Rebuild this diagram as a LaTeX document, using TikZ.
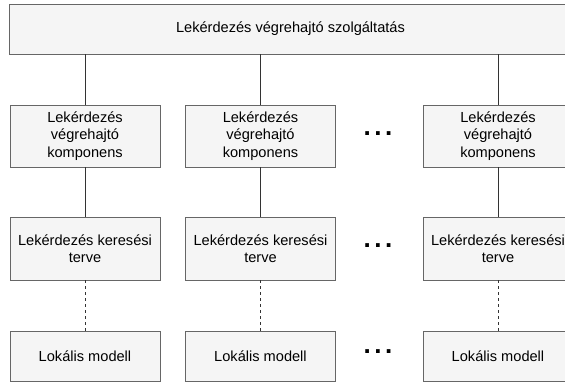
\documentclass[tikz,border=0pt]{standalone}
\usepackage{fontspec}
\setmainfont{Liberation Sans}
\definecolor{boxfill}{HTML}{F5F5F5}
\definecolor{boxline}{HTML}{666666}
\definecolor{linkcol}{HTML}{333333}
\begin{document}
\begin{tikzpicture}[x=1pt,y=-1pt,
  box/.style={draw=boxline, fill=boxfill, line width=0.9pt, minimum width=150pt,
    align=center, inner sep=0pt, font=\fontsize{14.6}{17.5}\selectfont},
  link/.style={draw=linkcol, line width=0.9pt},
  dlink/.style={link, dash pattern=on 3pt off 3pt},
  more/.style={anchor=base, inner sep=0pt, font=\fontsize{26}{26}\selectfont\bfseries}]
\useasboundingbox (0,0) rectangle (565,383);
\clip (0,0) rectangle (565,383);

% service on top
\node[box, minimum width=562pt, minimum height=50pt] (svc) at (290.5,29)
  {Lekérdezés végrehajtó szolgáltatás};

% three columns: component, search plan, local model
\foreach \c/\x in {a/85, b/260.5, c/498} {
  \node[box, minimum height=62pt] (\c1) at (\x,136) {Lekérdezés\\végrehajtó\\komponens};
  \node[box, minimum height=63pt] (\c2) at (\x,248.5) {Lekérdezés keresési\\terve};
  \node[box, minimum height=50pt] (\c3) at (\x,356) {Lokális modell};
  \draw[link] (svc.south -| \c1.north) -- (\c1.north);
  \draw[link] (\c1.south) -- (\c2.north);
  \draw[dlink] (\c2.south) -- (\c3.north);
}

% ellipses between the second and third column
\newcommand\dotrow{.\kern3.5pt.\kern3.5pt.}
\node[more] (m1) at (378,135.5) {\dotrow};
\node[more] (m2) at (378,247.5) {\dotrow};
\node[more] (m3) at (378,353.5) {\dotrow};
\end{tikzpicture}
\end{document}
